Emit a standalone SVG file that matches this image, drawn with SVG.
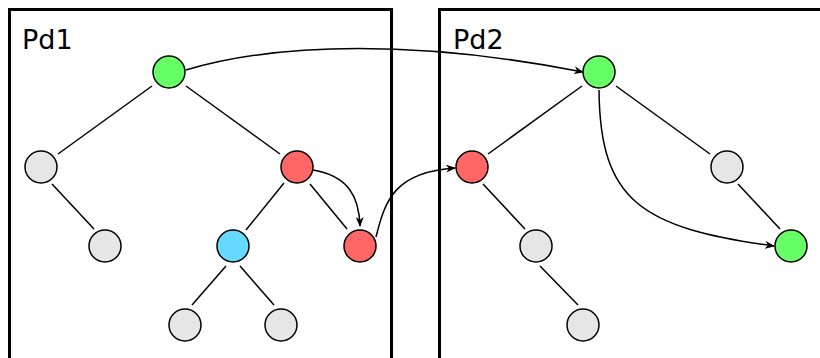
<svg xmlns="http://www.w3.org/2000/svg" width="820" height="358" viewBox="0 0 820 358">
<style>
.box{fill:none;stroke:#000;stroke-width:3}
.n{stroke:#000;stroke-width:1.5}
.g{fill:#66ff66}.r{fill:#ff6666}.b{fill:#66d9ff}.w{fill:#e6e6e6}
.e{stroke:#000;stroke-width:1.5;fill:none}
.a{stroke:#000;stroke-width:1.5;fill:none;marker-end:url(#arr)}
text{font-family:"DejaVu Sans",sans-serif;font-size:27px;fill:#000}
</style>
<defs>
<marker id="arr" viewBox="0 0 10 8" refX="9" refY="4" markerWidth="10" markerHeight="8" markerUnits="userSpaceOnUse" orient="auto">
<path d="M0,0 L10,4 L0,8 L3,4 z" fill="#000"/>
</marker>
</defs>
<g id="pd1">
<rect class="box" x="9.5" y="9.5" width="382" height="360"/>
<text x="22" y="49">Pd1</text>
</g>
<g id="pd2">
<rect class="box" x="439.5" y="9.5" width="400" height="360"/>
<text x="453" y="49">Pd2</text>
</g>
<g id="connectors">
<line class="e" x1="152" y1="86" x2="58" y2="154"/>
<line class="e" x1="186" y1="86" x2="280" y2="154"/>
<line class="e" x1="52" y1="184" x2="94" y2="229"/>
<line class="e" x1="284" y1="183" x2="246" y2="230"/>
<line class="e" x1="310" y1="184" x2="347" y2="229"/>
<line class="e" x1="226" y1="266" x2="192" y2="305"/>
<line class="e" x1="240" y1="266" x2="274" y2="305"/>
<line class="e" x1="582" y1="86" x2="488" y2="154"/>
<line class="e" x1="616" y1="86" x2="710" y2="154"/>
<line class="e" x1="483" y1="184" x2="525" y2="229"/>
<line class="e" x1="738" y1="184" x2="780" y2="229"/>
<line class="e" x1="540" y1="266" x2="578" y2="305"/>
<path class="a" d="M186,70 C280,42 420,40 583,72"/>
<path class="a" d="M313,170 C348,176 359,196 360,226"/>
<path class="a" d="M376,237 C385,200 395,172 455,168"/>
<path class="a" d="M599,90 C600,200 640,228 774,246"/>
</g>
<g id="n1"><circle class="n g" cx="169" cy="72" r="16"/></g>
<g id="n2"><circle class="n w" cx="41" cy="167" r="16"/></g>
<g id="n3"><circle class="n r" cx="297" cy="167" r="16"/></g>
<g id="n4"><circle class="n w" cx="105" cy="246" r="16"/></g>
<g id="n5"><circle class="n b" cx="233" cy="246" r="16"/></g>
<g id="n6"><circle class="n r" cx="360" cy="246" r="16"/></g>
<g id="n7"><circle class="n w" cx="185" cy="325" r="16"/></g>
<g id="n8"><circle class="n w" cx="281" cy="325" r="16"/></g>
<g id="n9"><circle class="n g" cx="599" cy="72" r="16"/></g>
<g id="n10"><circle class="n r" cx="472" cy="167" r="16"/></g>
<g id="n11"><circle class="n w" cx="727" cy="167" r="16"/></g>
<g id="n12"><circle class="n w" cx="536" cy="246" r="16"/></g>
<g id="n13"><circle class="n g" cx="791" cy="246" r="16"/></g>
<g id="n14"><circle class="n w" cx="583" cy="325" r="16"/></g>
</svg>
